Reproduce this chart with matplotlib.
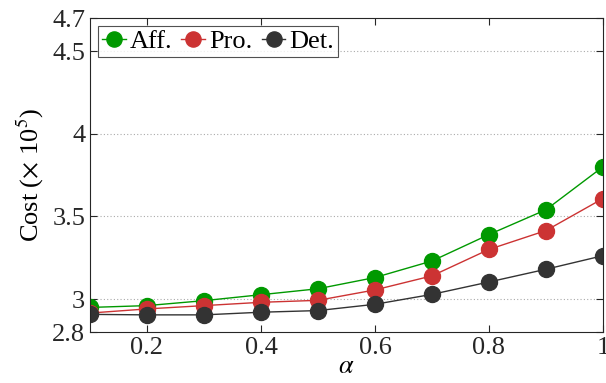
import matplotlib
matplotlib.use("Agg")
import matplotlib.pyplot as plt

alpha = [0.1, 0.2, 0.3, 0.4, 0.5, 0.6, 0.7, 0.8, 0.9, 1.0]
aff = [2.949, 2.96, 2.99, 3.026, 3.062, 3.13, 3.23, 3.39, 3.54, 3.80]
pro = [2.915, 2.94, 2.96, 2.98, 2.992, 3.055, 3.14, 3.30, 3.414, 3.608]
det = [2.907, 2.904, 2.904, 2.92, 2.93, 2.968, 3.028, 3.103, 3.18, 3.262]
labels = ["Aff.", "Pro.", "Det."]
colors = ["#009900", "#cc3333", "#333333"]
xticks = [0.2, 0.4, 0.6, 0.8, 1.0]
xticklabels = ["0.2", "0.4", "0.6", "0.8", "1"]
yticks = [2.8, 3.0, 3.5, 4.0, 4.5, 4.7]
yticklabels = ["2.8", "3", "3.5", "4", "4.5", "4.7"]

plt.rcParams['font.family'] = ['Liberation Serif', 'DejaVu Serif']
plt.rcParams['mathtext.fontset'] = 'stix'

fig = plt.figure(figsize=(6.06, 3.83), dpi=100)
ax = fig.add_axes([0.1485, 0.133, 0.8465, 0.820])

for y, lab, c in zip([aff, pro, det], labels, colors):
    ax.plot(alpha, y, '-o', color=c, lw=1.0, markersize=11.5, label=lab,
            markeredgecolor=c)

ax.set_xlim(0.1, 1.0)
ax.set_ylim(2.8, 4.7)
ax.set_xticks(xticks)
ax.set_xticklabels(xticklabels)
ax.set_yticks(yticks)
ax.set_yticklabels(yticklabels)
for yv in [3.0, 3.5, 4.0, 4.5]:
    ax.axhline(yv, color='#aaaaaa', lw=0.8, ls=(0, (1, 2)), zorder=0)

ax.tick_params(direction='in', top=True, right=True, labelsize=19,
               colors='#262626', length=5, width=0.8)
for s in ax.spines.values():
    s.set_color('#262626')
    s.set_linewidth(0.8)

ax.set_xlabel(r'$\alpha$', fontsize=19, labelpad=-2)
ax.set_ylabel(r'Cost ($\times$ 10$^5$)', fontsize=19, labelpad=4)

leg = ax.legend(loc='upper left', ncol=3, fontsize=19, frameon=True, fancybox=False,
                edgecolor='#262626', handlelength=0.9, handletextpad=0.15,
                columnspacing=0.35, borderpad=0.15, borderaxespad=0.3,
                markerscale=0.95)
leg.get_frame().set_linewidth(0.8)

fig.savefig('out.png', dpi=100)
